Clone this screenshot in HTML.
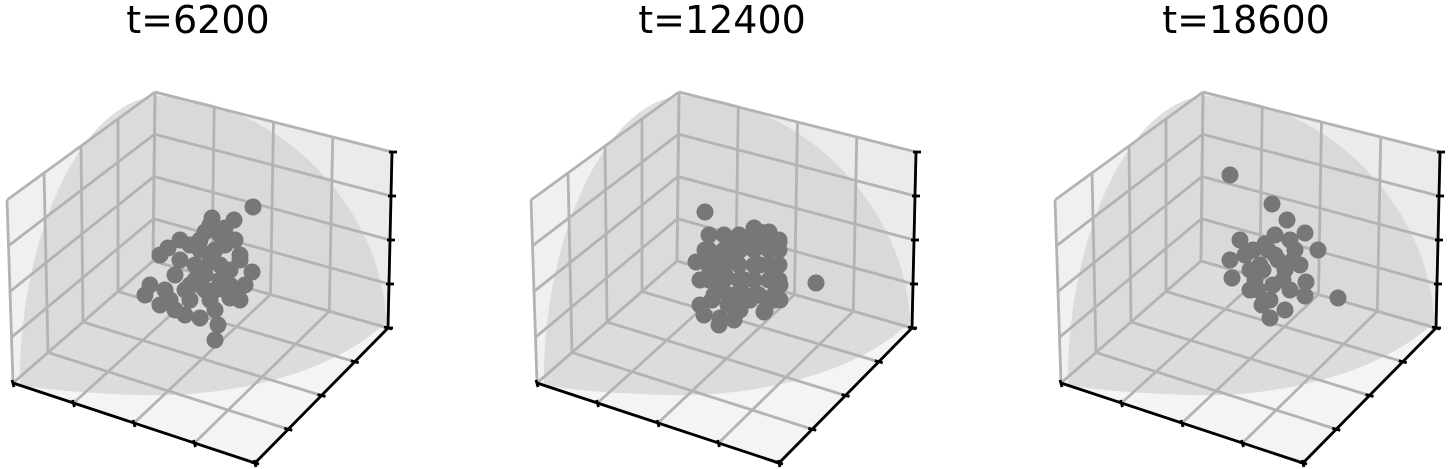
<!DOCTYPE html>
<html><head><meta charset="utf-8"><style>
body{margin:0;background:#fff;}
svg{display:block;}
text{font-family:"DejaVu Sans","Liberation Sans",sans-serif;}
</style></head><body>
<svg id="chart" width="1454" height="469" viewBox="0 0 1454 469" xmlns="http://www.w3.org/2000/svg"></svg>
<script>
const titles = ["t=6200","t=12400","t=18600"];
// scatter points in view-plane units (x right, z up), relative to box centre
const p1x = [53,12,34,25,5,-32,-20,-40,0,40,25,10,-5,30,52,45,20,0,-25,-50,-55,-40,-25,-10,10,30,40,15,0,18,15,-15,-30,35,-10,15,25,5,40,-5,20,0,30,-15,10,-20,5,25,35,-10,15,0,-35,20];
const p1z = [63,52,50,42,38,22,30,15,20,15,25,8,5,0,-2,-15,-10,-15,-5,-15,-25,-35,-40,-30,-30,-28,-30,-40,-48,-55,-70,-45,-30,30,25,20,-20,-20,10,-10,35,0,-15,-20,45,10,-5,-5,-20,-15,-20,30,-20,5];
const p2x = [-19,-28,92,36,24,6,-14,-4,-24,-4,16,46,56,36,21,6,-9,16,46,51,31,11,-12,-24,1,26,41,4,-19,36,56,
  -15,0,15,30,45,55,-15,0,15,30,45,55,-15,0,15,30,45,55,-15,0,15,30,45,55,-10,5,20,35,50,-20,-5,10,40,50,30,45,55];
const p2z = [58,8,-13,38,30,25,0,-20,-35,-48,-40,-30,-15,5,-10,10,15,20,20,0,-25,-25,-30,-10,-5,-30,-40,-35,20,25,-30,
  35,35,35,35,35,30,20,20,20,20,20,20,5,5,5,5,5,5,-10,-10,-10,-10,-10,-10,-25,-25,-25,-25,-25,-45,-55,-50,-42,-30,42,38,28];
const p3x = [-18,24,39,57,70,57,58,90,17,-8,-18,-16,2,22,37,22,37,12,-3,47,52,27,7,42,14,27,42,2,20,30,10,35,5,25,45,15];
const p3z = [95,66,50,37,20,-26,-12,-28,26,30,10,-8,-20,-30,-40,-48,0,5,15,20,5,15,-10,-20,-35,35,30,0,20,10,-20,-10,20,-15,10,0];
const px = [p1x,p2x,p3x], pz = [p1z,p2z,p3z];

const svg = document.getElementById('chart');
const NS = 'http://www.w3.org/2000/svg';
function mk(tag, attrs, parent){const e=document.createElementNS(NS,tag);for(const k in attrs)e.setAttribute(k,attrs[k]);parent.appendChild(e);return e;}
function lerp(a,b,t){return [a[0]+(b[0]-a[0])*t,a[1]+(b[1]-a[1])*t];}
const A=[13,383],B=[255,463],C=[388,328],D=[153,261],At=[7,200],Dt=[155,92],Ct=[392,152];
const cx=200, cy=270;
function sx(v){return cx+v;}
function sy(v){return cy-v;}
const offsets=[0,524,1048];
const titleX=[198,722,1246];
offsets.forEach((off,i)=>{
  const g=mk('g',{transform:`translate(${off},0)`},svg);
  
  
  const pt=p=>p[0]+','+p[1];
  const lw=mk('polygon',{points:[A,At,Dt,D].map(pt).join(' '),fill:'#f0f0f0'},g);
  
  
  const rw=mk('polygon',{points:[D,Dt,Ct,C].map(pt).join(' '),fill:'#ebebeb'},g);
  
  
  const fl=mk('polygon',{points:[A,B,C,D].map(pt).join(' '),fill:'#f4f4f4'},g);
  
  
  const dome=mk('path',{d:'M20,385 C18,250 75,105 155,96 C280,98 383,210 386,322 C335,372 235,398 140,395 C80,393 40,389 20,385 Z',fill:'#d2d2d2','fill-opacity':'0.7'},g);
  
  
  const gs={stroke:'#b3b3b3','stroke-width':2.8,fill:'none'};
  function gl(p,q){const l=mk('line',Object.assign({x1:p[0],y1:p[1],x2:q[0],y2:q[1]},gs),g);}
  for(let k=0;k<=4;k++){const t=k/4;
    gl(lerp(A,D,t),lerp(At,Dt,t)); gl(lerp(A,At,t),lerp(D,Dt,t));
    gl(lerp(D,C,t),lerp(Dt,Ct,t)); gl(lerp(D,Dt,t),lerp(C,Ct,t));
    gl(lerp(A,D,t),lerp(B,C,t)); gl(lerp(A,B,t),lerp(D,C,t));
  }
  const as={stroke:'#000','stroke-width':2.8};
  function ax(p,q,name){const l=mk('line',Object.assign({x1:p[0],y1:p[1],x2:q[0],y2:q[1]},as),g);}
  ax(A,B,'x-axis');ax(B,C,'y-axis');ax(C,Ct,'z-axis');
  for(let k=0;k<=4;k++){const t=k/4;
    const a=lerp(A,B,t);ax([a[0]-1,a[1]-3],[a[0]+1,a[1]+4],'x-tick');
    const b=lerp(B,C,t);ax([b[0]-4,b[1]-1],[b[0]+4,b[1]+1],'y-tick');
    const c=lerp(C,Ct,t);ax([c[0]-3,c[1]],[c[0]+5,c[1]],'z-tick');
  }
  px[i].forEach((v,j)=>{
    const c=mk('circle',{cx:sx(v),cy:sy(pz[i][j]),r:8.5,fill:'#777777'},g);
    
    
  });
  const tt=mk('text',{x:titleX[i]-off,y:33,'font-size':38,'text-anchor':'middle',fill:'#000'},g);
  tt.textContent=titles[i];
  
  
});
</script>
</body></html>
